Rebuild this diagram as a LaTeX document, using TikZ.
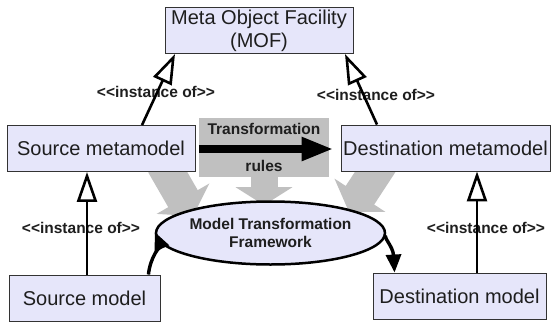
\documentclass[tikz,border=0pt]{standalone}
\usepackage{fontspec}
\setmainfont{Liberation Sans}
\usetikzlibrary{arrows.meta,shapes.geometric,calc}
\definecolor{boxfill}{RGB}{230,230,250}
\definecolor{bandgray}{RGB}{192,192,192}
\definecolor{inkgray}{RGB}{30,30,30}

\begin{document}
\begin{tikzpicture}[x=1pt,y=-1pt,
  mbox/.style={draw=black!80, line width=0.9pt, fill=boxfill, text=inkgray,
    font=\fontsize{20}{23}\selectfont, minimum width=#1, minimum height=46pt,
    inner sep=0pt, align=center},
  instlabel/.style={text=inkgray, font=\fontsize{15.5}{18}\selectfont\bfseries, inner sep=0pt},
  instof/.style={line width=2.6pt, -{Triangle[length=30pt,width=20pt,fill=white]}},
  flowarrow/.style={line width=3.4pt, -{Triangle[length=18pt,width=15pt]}},
  bigarrow/.style={bandgray, line width=27pt, -{Triangle[length=18pt,width=56pt]}},
  sidearrow/.style={bandgray, line width=34pt, -{Triangle[length=20pt,width=60pt]}}
]
\fill[white] (0,0) rectangle (553,324);
\useasboundingbox (0,0) rectangle (553,324);

% rule box with the two words of its caption
\node[fill=bandgray, minimum width=130pt, minimum height=59pt, inner sep=0pt,
  text=inkgray, font=\fontsize{15.5}{37}\selectfont\bfseries, align=center]
  (rules) at (264,147.5) {Transformation\\rules};

% broad grey arrows feeding the framework
\draw[sidearrow] (163,164) -- (193,216);
\draw[sidearrow] (383,160) -- (349,212);
\draw[bigarrow] (rules.south) -- ++(0,28);

% model boxes
\node[mbox=188pt] (mof) at (259,30.5) {Meta Object Facility\\(MOF)};
\node[mbox=188pt] (smm) at (101,148.5) {Source metamodel};
\node[mbox=209pt] (dmm) at (445.5,148) {Destination metamodel};
\node[mbox=151pt] (sm)  at (84.5,298) {Source model};
\node[mbox=173pt] (dm)  at (459.5,296) {Destination model};

% transformation framework
\node[ellipse, draw=black, line width=2.5pt, fill=boxfill, minimum width=183pt,
  minimum height=63pt, inner sep=0pt, text=inkgray,
  font=\fontsize{15.5}{18}\selectfont\bfseries, align=center]
  (mtf) at (270.5,233) {Model Transformation\\Framework};

% black arrow across the rule box
\draw[line width=8pt, -{Triangle[length=32pt,width=22pt]}]
  ([yshift=-1.5pt]rules.west) -- ([yshift=-1pt,xshift=-7pt]dmm.west);

% instance-of labels
\node[instlabel] (l1) at (156,92) {<{}<instance of>{}>};
\node[instlabel] (l2) at (376,95) {<{}<instance of>{}>};
\node[instlabel] (l3) at (81,228) {<{}<instance of>{}>};
\node[instlabel] (l4) at (486,228) {<{}<instance of>{}>};

% instance-of relations
\draw[instof] ([xshift=41pt]smm.north) -- ([xshift=-84pt]mof.south);
\draw[instof] ([xshift=-68.5pt]dmm.north) -- ([xshift=86pt]mof.south);
\draw[instof] ([xshift=2.5pt]sm.north) -- ([xshift=2.5pt]sm.north |- smm.south);
\draw[instof] ([xshift=17.5pt]dm.north) -- ([xshift=17.5pt]dm.north |- dmm.south);

% model flow through the framework
\draw[flowarrow] ([xshift=-12pt]sm.north east) .. controls (150,258) and (160,244) .. ([yshift=1pt]mtf.west);
\draw[flowarrow] ([yshift=-2pt]mtf.east) .. controls (382,236) and (393,246) .. ([xshift=22pt]dm.north west);
\end{tikzpicture}
\end{document}
